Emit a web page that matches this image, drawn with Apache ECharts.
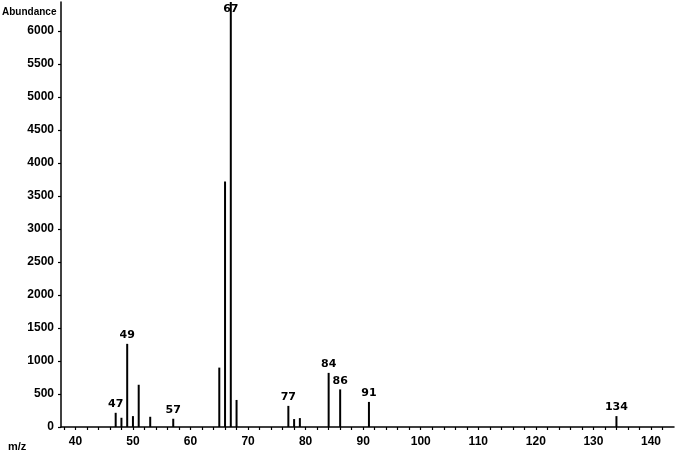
<!DOCTYPE html>
<html><head><meta charset="utf-8">
<script src="https://cdn.jsdelivr.net/npm/echarts@6/dist/echarts.min.js"></script>
<style>html,body{margin:0;padding:0;background:#fff}#c{width:679px;height:456px}</style>
</head><body><div id="c"></div>
<script>
// m/z of each peak and its abundance (67 is saturated at the top of the plot)
const mz        = [47, 48, 49,   50,  51,  53,  57,  65,  66,   67,   68,  77,  78,  79,  84,  86,  91,  134];
const abundance = [215,140,1260, 165, 640, 155, 125, 900, 3720, 6440, 410, 320, 120, 135, 820, 570, 380, 165];
const labeledPeaks = [47, 49, 57, 67, 77, 84, 86, 91, 134];
const xTickLabels = [40, 50, 60, 70, 80, 90, 100, 110, 120, 130, 140];
const xTickMarks = [38, 40, 42, 44, 46, 48, 50, 52, 54, 56, 58, 60, 62, 64, 66, 68, 70, 72, 74, 76, 78, 80, 82, 84, 86, 88, 90, 92, 94, 96, 98, 100, 102, 104, 106, 108, 110, 112, 114, 116, 118, 120, 122, 124, 126, 128, 130, 132, 134, 136, 138, 140, 142];
const yTickLabels = [0, 500, 1000, 1500, 2000, 2500, 3000, 3500, 4000, 4500, 5000, 5500, 6000];
const yTitle = 'Abundance';
const xTitle = 'm/z';

const chart = echarts.init(document.getElementById('c'), null, {renderer: 'canvas'});
const AXFONT = 'Liberation Sans, Arial, sans-serif';

const data = mz.map((m, i) => {
  const item = {value: [m, abundance[i]]};
  if (labeledPeaks.indexOf(m) >= 0) {
    item.label = {show: true};
    if (m === 67) item.label = {show: true, position: 'insideTop', distance: 2};
  }
  return item;
});

chart.setOption({
  animation: false,
  backgroundColor: '#fff',
  grid: {left: 61, right: 5, top: 2, bottom: 29, containLabel: false},
  xAxis: {
    type: 'value', min: 37.5, max: 144,
    axisLine: {show: true, onZero: false, lineStyle: {color: '#000', width: 1.5}},
    axisTick: {show: true, length: 3, lineStyle: {color: '#000', width: 1.2}, customValues: xTickMarks},
    axisLabel: {customValues: xTickLabels, color: '#000', fontFamily: AXFONT, fontWeight: 'bold', fontSize: 12, margin: 9,
      formatter: v => String(v)},
    splitLine: {show: false}
  },
  yAxis: {
    type: 'value', min: 0, max: 6440,
    axisLine: {show: true, lineStyle: {color: '#000', width: 1.5}},
    axisTick: {show: true, length: 3, lineStyle: {color: '#000', width: 1.2}, customValues: yTickLabels},
    axisLabel: {customValues: yTickLabels, color: '#000', fontFamily: AXFONT, fontWeight: 'bold', fontSize: 12, margin: 7,
      formatter: v => String(v)},
    splitLine: {show: false}
  },
  series: [{
    type: 'bar',
    barWidth: 2,
    itemStyle: {color: '#000'},
    label: {show: false, position: 'top', distance: 3, color: '#000', fontFamily: 'DejaVu Sans, sans-serif', fontWeight: 'bold', fontSize: 11,
      formatter: p => String(p.value[0])},
    data: data
  }],
  graphic: [
    {type: 'text', left: 2, top: 7, style: {text: yTitle, fill: '#000', font: 'bold 10px Liberation Sans, Arial, sans-serif'}},
    {type: 'text', left: 8, top: 441, style: {text: xTitle, fill: '#000', font: 'bold 11px Liberation Sans, Arial, sans-serif'}}
  ]
});
</script>
</body></html>
